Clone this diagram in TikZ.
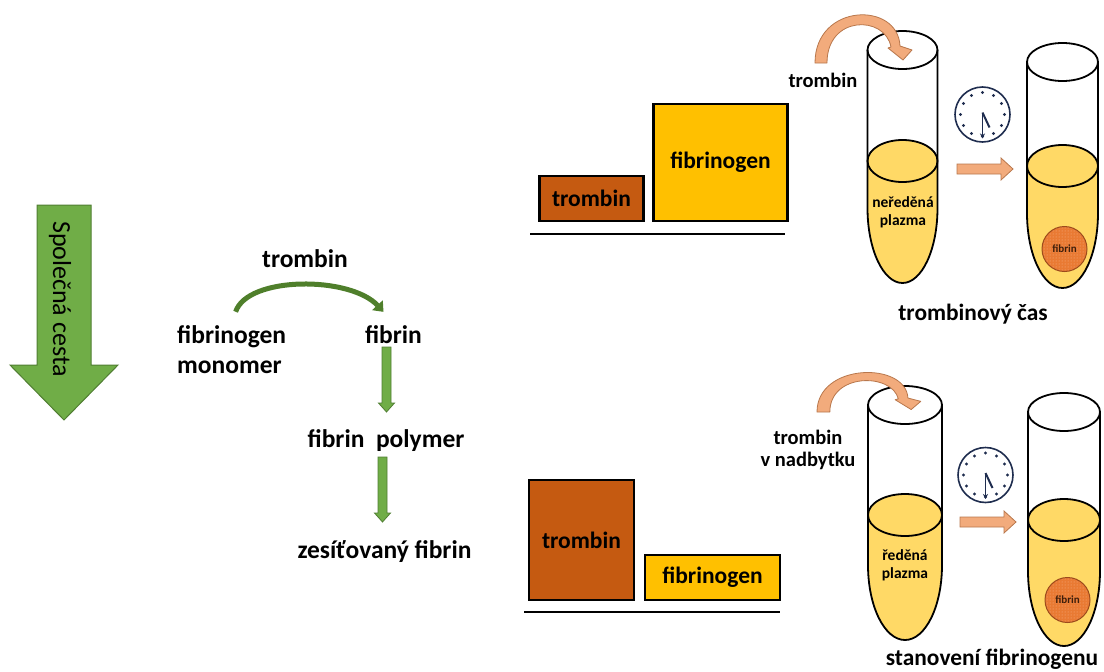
\documentclass[tikz,border=0pt]{standalone}
\usepackage{fontspec}
\setmainfont{Carlito}
\usetikzlibrary{calc,arrows.meta,patterns}

\definecolor{thrombin}{HTML}{C55A11}
\definecolor{fibrinogen}{HTML}{FFC000}
\definecolor{plasma}{HTML}{FFD966}
\definecolor{clotfill}{HTML}{E97A33}
\definecolor{clotdot}{HTML}{F6B58A}
\definecolor{clotedge}{HTML}{9C4A1C}
\definecolor{leaf}{HTML}{70AD47}
\definecolor{leafedge}{HTML}{507E32}
\definecolor{darkleaf}{HTML}{4F7F2B}
\definecolor{peach}{HTML}{F2AB7C}
\definecolor{peachedge}{HTML}{B8774C}
\definecolor{dial}{HTML}{1F2D4F}

% test tube: centre x, half width, rim y, plasma level, start of round bottom, depth of round bottom
\newcommand{\testtube}[6]{%
  \fill[plasma] (#1-#2,#4) -- (#1-#2,#5)
    arc[start angle=180,end angle=0,x radius=#2,y radius=#6]
    -- (#1+#2,#4) arc[start angle=0,end angle=-180,x radius=#2,y radius=21] -- cycle;
  \draw[glass] (#1-#2,#3) -- (#1-#2,#5)
    arc[start angle=180,end angle=0,x radius=#2,y radius=#6] -- (#1+#2,#3);
  \draw[glass] (#1,#3) ellipse[x radius=#2,y radius=19];
  \draw[glass] (#1,#4) ellipse[x radius=#2,y radius=21];
}

\tikzset{
  pourarrow/.pic={
    \filldraw[fill=peach,draw=peachedge,line width=0.8pt,line join=round]
      (0,0) .. controls (0,-60) and (83,-62) .. (85,-17) -- (97,-13) -- (88,-3)
      -- (73,-15) -- (76,-16) .. controls (70,-48) and (12,-48) .. (12,0) -- cycle;
  },
  waitarrow/.pic={
    \filldraw[fill=peach,draw=peachedge,line width=0.8pt]
      (0,-5) -- (44,-5) -- (44,-11) -- (56,0) -- (44,11) -- (44,5) -- (0,5) -- cycle;
  },
  steparrow/.pic={
    \filldraw[fill=leaf,draw=leafedge,line width=0.8pt]
      (-4.5,0) -- (4.5,0) -- (4.5,56) -- (8,56) -- (0,65) -- (-8,56) -- (-4.5,56) -- cycle;
  },
  clock/.pic={
    \draw[dial,line width=1.6pt,fill=white] (0,0) circle[radius=27.5];
    \foreach \a in {0,30,...,330}
      \fill[dial] (\a:22) circle[radius=1.6];
    \draw[dial,line width=1.3pt,-{Stealth[length=5pt,width=5pt]}] (0,-2) -- (0,24);
    \draw[dial,line width=2pt] (0,-2) -- (7,13);
  }
}

\begin{document}
\begin{tikzpicture}[
    x=1pt,y=-1pt,
    lbl/.style={font=\bfseries\fontsize{25.5}{30}\selectfont,inner sep=1pt},
    box/.style={draw=black,line width=2.2pt,inner sep=0pt,
      font=\bfseries\fontsize{23.5}{28}\selectfont},
    reagent/.style={font=\bfseries\fontsize{20.5}{22}\selectfont,align=center,inner sep=0pt},
    sample/.style={font=\bfseries\fontsize{15.5}{18}\selectfont,align=center,inner sep=0pt},
    caption/.style={font=\bfseries\fontsize{23.4}{28}\selectfont,anchor=base,inner sep=0pt},
    clot/.style={circle,draw=clotedge,line width=1pt,preaction={fill=clotfill},
      pattern=dots,pattern color=clotdot,minimum size=45pt,inner sep=0pt,
      font=\bfseries\fontsize{11}{12}\selectfont,text=clotedge!40!black},
    glass/.style={line width=1.8pt,line join=round},
    floor/.style={line width=2.2pt}
  ]
  \useasboundingbox (0,0) rectangle (1104,672);

  % common pathway
  \filldraw[fill=leaf,draw=leafedge,line width=1pt]
    (37,205) -- (91,205) -- (91,365) -- (118,365) -- (64,420) -- (10,365) -- (37,365) -- cycle;
  \node[rotate=-90,anchor=base,font=\fontsize{26}{30}\selectfont] (common) at (53,299) {Společná cesta};

  % fibrinogen -> fibrin -> polymer -> cross-linked
  \node[lbl,anchor=base] (thr) at (305,267) {trombin};
  \node[lbl,align=left,anchor=west] (fgn) at (176,350) {fibrinogen\\monomer};
  \node[lbl,anchor=base] (fib) at (393.5,343) {fibrin};
  \node[lbl,anchor=base] (poly) at (386,447) {fibrin~~polymer};
  \node[lbl,anchor=base] (xfib) at (384.5,558) {zesíťovaný fibrin};
  \coordinate (cs) at ($(fgn.north)+(4,-13)$);
  \coordinate (ce) at ($(fib.north)+(-10,-12)$);
  \draw[darkleaf,line width=5pt,-{Triangle[length=9pt,width=14pt]}]
    (cs) .. controls ($(cs)+(12,-36)$) and ($(ce)+(-33,-36)$) .. (ce);
  \pic at ($(fib.base)+(-7,4)$) {steparrow};
  \pic at ($(poly.base)+(-3.5,10)$) {steparrow};

  % thrombin time: little thrombin, much fibrinogen
  \node[box,fill=thrombin,minimum width=104pt,minimum height=45pt] (tb1) at (591.5,198.5) {trombin};
  \node[box,fill=fibrinogen,minimum width=134pt,minimum height=117pt] (fb1) at (720.5,162.5) {fibrinogen};
  \draw[floor] (530,234) -- (785,234);

  % fibrinogen assay: thrombin in excess
  \node[box,fill=thrombin,minimum width=105pt,minimum height=120pt] (tb2) at (581.5,540) {trombin};
  \node[box,fill=fibrinogen,minimum width=135pt,minimum height=45pt] (fb2) at (712.5,577.5) {fibrinogen};
  \draw[floor] (524,612) -- (780,612);

  % tubes, upper row
  \testtube{902.5}{35}{50}{161}{208}{75}
  \testtube{1062.5}{35.5}{62}{166}{213}{75}
  \node[sample] (pl1) at (903,212) {neředěná\\plazma};
  \node[clot] (clot1) at (1064.5,249) {fibrin};
  \node[reagent,anchor=base] (thr1) at (823,87) {trombin};
  \pic at (815,63) {pourarrow};
  \pic at (982.5,114.5) {clock};
  \pic at (957,169) {waitarrow};
  \node[caption] (tt) at (973,320) {trombinový čas};

  % tubes, lower row
  \testtube{905}{37}{405}{515}{565}{75}
  \testtube{1064}{36}{412}{520}{571}{75}
  \node[sample] (pl2) at (905,565) {ředěná\\plazma};
  \node[clot] (clot2) at (1067.5,600) {fibrin};
  \node[reagent] (thr2) at (808,449.5) {trombin\\v nadbytku};
  \pic[xscale=1.07,yscale=0.82] at (817,412) {pourarrow};
  \pic at (985.5,475) {clock};
  \pic at (960,522) {waitarrow};
  \node[caption] (fa) at (992,665) {stanovení fibrinogenu};
\end{tikzpicture}
\end{document}
